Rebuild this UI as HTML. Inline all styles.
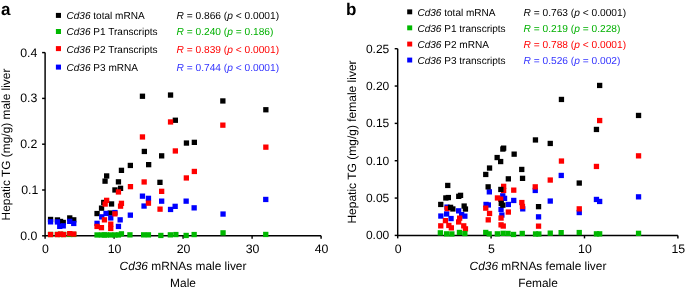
<!DOCTYPE html>
<html><head><meta charset="utf-8"><style>
html,body{margin:0;padding:0;background:#fff;width:685px;height:293px;overflow:hidden}
svg{display:block}
text{font-family:"Liberation Sans",sans-serif;fill:#000;text-rendering:geometricPrecision}
svg{transform:translateZ(0)}
.it{font-style:italic}
</style></head><body>
<svg width="685" height="293" viewBox="0 0 685 293">

<text x="1.1" y="14.5" font-size="17" font-weight="bold">a</text>
<text x="345.9" y="14.5" font-size="17" font-weight="bold">b</text>
<path d="M45.1 52.60000000000002 V235.8 H321.1" fill="none" stroke="#000" stroke-width="1.45"/><path d="M42.1 235.8 H45.1" stroke="#000" stroke-width="1.45"/><path d="M42.1 190.0 H45.1" stroke="#000" stroke-width="1.45"/><path d="M42.1 144.20000000000002 H45.1" stroke="#000" stroke-width="1.45"/><path d="M42.1 98.40000000000003 H45.1" stroke="#000" stroke-width="1.45"/><path d="M42.1 52.60000000000002 H45.1" stroke="#000" stroke-width="1.45"/><path d="M45.1 235.8 V238.8" stroke="#000" stroke-width="1.45"/><path d="M114.1 235.8 V238.8" stroke="#000" stroke-width="1.45"/><path d="M183.1 235.8 V238.8" stroke="#000" stroke-width="1.45"/><path d="M252.1 235.8 V238.8" stroke="#000" stroke-width="1.45"/><path d="M321.1 235.8 V238.8" stroke="#000" stroke-width="1.45"/>
<text x="37.300000000000004" y="239.8" font-size="12.3" text-anchor="end">0.0</text>
<text x="38.300000000000004" y="194.0" font-size="12.3" text-anchor="end">0.1</text>
<text x="37.300000000000004" y="148.20000000000002" font-size="12.3" text-anchor="end">0.2</text>
<text x="37.300000000000004" y="102.40000000000003" font-size="12.3" text-anchor="end">0.3</text>
<text x="37.300000000000004" y="56.60000000000002" font-size="12.3" text-anchor="end">0.4</text>
<text x="45.5" y="252.8" font-size="12.3" text-anchor="middle">0</text>
<text x="114.5" y="252.8" font-size="12.3" text-anchor="middle">10</text>
<text x="183.5" y="252.8" font-size="12.3" text-anchor="middle">20</text>
<text x="252.5" y="252.8" font-size="12.3" text-anchor="middle">30</text>
<text x="321.5" y="252.8" font-size="12.3" text-anchor="middle">40</text>
<text x="183" y="269.5" font-size="11.9" text-anchor="middle"><tspan class="it">Cd36</tspan> mRNAs male liver</text>
<text x="183" y="287" font-size="11.9" text-anchor="middle">Male</text>
<text transform="translate(10.3 144.5) rotate(-90)" font-size="11.9" text-anchor="middle">Hepatic TG (mg/g) male liver</text>
<path d="M397.7 48.69999999999999 V235.4 H677.9000000000001" fill="none" stroke="#000" stroke-width="1.45"/><path d="M394.7 235.4 H397.7" stroke="#000" stroke-width="1.45"/><path d="M394.7 198.06 H397.7" stroke="#000" stroke-width="1.45"/><path d="M394.7 160.72 H397.7" stroke="#000" stroke-width="1.45"/><path d="M394.7 123.38 H397.7" stroke="#000" stroke-width="1.45"/><path d="M394.7 86.03999999999999 H397.7" stroke="#000" stroke-width="1.45"/><path d="M394.7 48.69999999999999 H397.7" stroke="#000" stroke-width="1.45"/><path d="M397.7 235.4 V238.4" stroke="#000" stroke-width="1.45"/><path d="M491.1 235.4 V238.4" stroke="#000" stroke-width="1.45"/><path d="M584.5 235.4 V238.4" stroke="#000" stroke-width="1.45"/><path d="M677.9000000000001 235.4 V238.4" stroke="#000" stroke-width="1.45"/>
<text x="389.3" y="239.4" font-size="12" text-anchor="end">0.00</text>
<text x="389.3" y="202.06" font-size="12" text-anchor="end">0.05</text>
<text x="389.3" y="164.72" font-size="12" text-anchor="end">0.10</text>
<text x="389.3" y="127.38" font-size="12" text-anchor="end">0.15</text>
<text x="389.3" y="90.03999999999999" font-size="12" text-anchor="end">0.20</text>
<text x="389.3" y="52.69999999999999" font-size="12" text-anchor="end">0.25</text>
<text x="398.09999999999997" y="252.70000000000002" font-size="12.3" text-anchor="middle">0</text>
<text x="491.5" y="252.70000000000002" font-size="12.3" text-anchor="middle">5</text>
<text x="584.9" y="252.70000000000002" font-size="12.3" text-anchor="middle">10</text>
<text x="678.3000000000001" y="252.70000000000002" font-size="12.3" text-anchor="middle">15</text>
<text x="538" y="269.5" font-size="11.9" text-anchor="middle"><tspan class="it">Cd36</tspan> mRNAs female liver</text>
<text x="538" y="287" font-size="11.9" text-anchor="middle">Female</text>
<text transform="translate(355.8 142.0) rotate(-90)" font-size="12" text-anchor="middle">Hepatic TG (mg/g) female liver</text>
<rect x="55.9" y="12.9" width="5.1" height="5" fill="#000000"/>
<rect x="55.9" y="29.0" width="5.1" height="5" fill="#00b800"/>
<rect x="55.9" y="46.1" width="5.1" height="5" fill="#ff0000"/>
<rect x="55.9" y="64.6" width="5.1" height="5" fill="#0000ff"/>
<text x="66.5" y="19.0" font-size="10.05"><tspan class="it">Cd36</tspan> total mRNA</text>
<text x="66.5" y="35.2" font-size="10.05"><tspan class="it">Cd36</tspan> P1 Transcripts</text>
<text x="66.5" y="53.1" font-size="10.05"><tspan class="it">Cd36</tspan> P2 Transcripts</text>
<text x="66.5" y="71.0" font-size="10.05"><tspan class="it">Cd36</tspan> P3 mRNA</text>
<text x="176.5" y="19.0" font-size="10.2" style="fill:#000000"><tspan class="it">R</tspan> = 0.866 (<tspan class="it">p</tspan> &lt; 0.0001)</text>
<text x="176.5" y="35.2" font-size="10.2" style="fill:#00b000"><tspan class="it">R</tspan> = 0.240 (<tspan class="it">p</tspan> = 0.186)</text>
<text x="176.5" y="53.1" font-size="10.2" style="fill:#ff0000"><tspan class="it">R</tspan> = 0.839 (<tspan class="it">p</tspan> &lt; 0.0001)</text>
<text x="176.5" y="71.0" font-size="10.2" style="fill:#3333ff"><tspan class="it">R</tspan> = 0.744 (<tspan class="it">p</tspan> &lt; 0.0001)</text>
<rect x="407.2" y="9.4" width="5" height="4.9" fill="#000000"/>
<rect x="407.2" y="25.4" width="5" height="4.9" fill="#00b800"/>
<rect x="407.2" y="41.6" width="5" height="4.9" fill="#ff0000"/>
<rect x="407.2" y="57.599999999999994" width="5" height="4.9" fill="#0000ff"/>
<text x="417.4" y="15.9" font-size="10.05"><tspan class="it">Cd36</tspan> total mRNA</text>
<text x="417.4" y="31.9" font-size="10.05"><tspan class="it">Cd36</tspan> P1 transcripts</text>
<text x="417.4" y="48.1" font-size="10.05"><tspan class="it">Cd36</tspan> P2 mRNA</text>
<text x="417.4" y="64.1" font-size="10.05"><tspan class="it">Cd36</tspan> P3 transcripts</text>
<text x="523.5" y="15.9" font-size="10.2" style="fill:#000000"><tspan class="it">R</tspan> = 0.763 (<tspan class="it">p</tspan> &lt; 0.0001)</text>
<text x="523.5" y="31.9" font-size="10.2" style="fill:#00b000"><tspan class="it">R</tspan> = 0.219 (<tspan class="it">p</tspan> = 0.228)</text>
<text x="523.5" y="48.1" font-size="10.2" style="fill:#ff0000"><tspan class="it">R</tspan> = 0.788 (<tspan class="it">p</tspan> &lt; 0.0001)</text>
<text x="523.5" y="64.1" font-size="10.2" style="fill:#3333ff"><tspan class="it">R</tspan> = 0.526 (<tspan class="it">p</tspan> = 0.002)</text>
<rect x="139.8" y="93.6" width="5.3" height="5.3" fill="#000000"/><rect x="167.9" y="92.4" width="5.3" height="5.3" fill="#000000"/><rect x="172.7" y="117.6" width="5.3" height="5.3" fill="#000000"/><rect x="220.2" y="98.3" width="5.3" height="5.3" fill="#000000"/><rect x="263.2" y="107.1" width="5.3" height="5.3" fill="#000000"/><rect x="141.7" y="148.8" width="5.3" height="5.3" fill="#000000"/><rect x="159.0" y="153.2" width="5.3" height="5.3" fill="#000000"/><rect x="183.8" y="140.4" width="5.3" height="5.3" fill="#000000"/><rect x="191.7" y="139.7" width="5.3" height="5.3" fill="#000000"/><rect x="127.7" y="162.8" width="5.3" height="5.3" fill="#000000"/><rect x="146.0" y="162.0" width="5.3" height="5.3" fill="#000000"/><rect x="118.8" y="167.7" width="5.3" height="5.3" fill="#000000"/><rect x="104.0" y="173.3" width="5.3" height="5.3" fill="#000000"/><rect x="102.4" y="178.5" width="5.3" height="5.3" fill="#000000"/><rect x="115.8" y="179.2" width="5.3" height="5.3" fill="#000000"/><rect x="112.3" y="187.3" width="5.3" height="5.3" fill="#000000"/><rect x="117.9" y="185.7" width="5.3" height="5.3" fill="#000000"/><rect x="157.3" y="179.7" width="5.3" height="5.3" fill="#000000"/><rect x="108.9" y="201.3" width="5.3" height="5.3" fill="#000000"/><rect x="101.1" y="199.8" width="5.3" height="5.3" fill="#000000"/><rect x="98.9" y="205.5" width="5.3" height="5.3" fill="#000000"/><rect x="94.4" y="210.9" width="5.3" height="5.3" fill="#000000"/><rect x="107.6" y="210.4" width="5.3" height="5.3" fill="#000000"/><rect x="47.9" y="216.8" width="5.3" height="5.3" fill="#000000"/><rect x="54.8" y="217.3" width="5.3" height="5.3" fill="#000000"/><rect x="57.9" y="218.8" width="5.3" height="5.3" fill="#000000"/><rect x="60.6" y="219.8" width="5.3" height="5.3" fill="#000000"/><rect x="67.1" y="215.3" width="5.3" height="5.3" fill="#000000"/><rect x="71.1" y="217.2" width="5.3" height="5.3" fill="#000000"/><rect x="47.9" y="231.8" width="5.3" height="5.3" fill="#00b800"/><rect x="54.8" y="231.8" width="5.3" height="5.3" fill="#00b800"/><rect x="57.9" y="231.8" width="5.3" height="5.3" fill="#00b800"/><rect x="61.0" y="231.8" width="5.3" height="5.3" fill="#00b800"/><rect x="67.1" y="231.8" width="5.3" height="5.3" fill="#00b800"/><rect x="71.1" y="231.8" width="5.3" height="5.3" fill="#00b800"/><rect x="94.4" y="232.3" width="5.3" height="5.3" fill="#00b800"/><rect x="98.8" y="232.3" width="5.3" height="5.3" fill="#00b800"/><rect x="101.8" y="232.3" width="5.3" height="5.3" fill="#00b800"/><rect x="103.8" y="232.3" width="5.3" height="5.3" fill="#00b800"/><rect x="108.1" y="232.3" width="5.3" height="5.3" fill="#00b800"/><rect x="112.3" y="232.3" width="5.3" height="5.3" fill="#00b800"/><rect x="115.8" y="232.3" width="5.3" height="5.3" fill="#00b800"/><rect x="118.8" y="231.2" width="5.3" height="5.3" fill="#00b800"/><rect x="127.3" y="232.2" width="5.3" height="5.3" fill="#00b800"/><rect x="141.0" y="232.2" width="5.3" height="5.3" fill="#00b800"/><rect x="145.8" y="232.2" width="5.3" height="5.3" fill="#00b800"/><rect x="158.2" y="232.8" width="5.3" height="5.3" fill="#00b800"/><rect x="167.7" y="232.2" width="5.3" height="5.3" fill="#00b800"/><rect x="173.2" y="231.9" width="5.3" height="5.3" fill="#00b800"/><rect x="183.5" y="232.8" width="5.3" height="5.3" fill="#00b800"/><rect x="191.5" y="231.9" width="5.3" height="5.3" fill="#00b800"/><rect x="220.4" y="230.2" width="5.3" height="5.3" fill="#00b800"/><rect x="263.1" y="231.8" width="5.3" height="5.3" fill="#00b800"/><rect x="139.8" y="193.5" width="5.3" height="5.3" fill="#0000ff"/><rect x="145.8" y="195.7" width="5.3" height="5.3" fill="#0000ff"/><rect x="159.0" y="198.5" width="5.3" height="5.3" fill="#0000ff"/><rect x="141.4" y="203.4" width="5.3" height="5.3" fill="#0000ff"/><rect x="127.7" y="212.5" width="5.3" height="5.3" fill="#0000ff"/><rect x="167.9" y="206.8" width="5.3" height="5.3" fill="#0000ff"/><rect x="172.5" y="203.7" width="5.3" height="5.3" fill="#0000ff"/><rect x="183.5" y="198.5" width="5.3" height="5.3" fill="#0000ff"/><rect x="191.5" y="205.2" width="5.3" height="5.3" fill="#0000ff"/><rect x="220.4" y="211.4" width="5.3" height="5.3" fill="#0000ff"/><rect x="263.1" y="196.8" width="5.3" height="5.3" fill="#0000ff"/><rect x="103.4" y="210.8" width="5.3" height="5.3" fill="#0000ff"/><rect x="99.1" y="214.2" width="5.3" height="5.3" fill="#0000ff"/><rect x="112.3" y="209.9" width="5.3" height="5.3" fill="#0000ff"/><rect x="108.1" y="215.3" width="5.3" height="5.3" fill="#0000ff"/><rect x="117.5" y="217.2" width="5.3" height="5.3" fill="#0000ff"/><rect x="94.4" y="220.7" width="5.3" height="5.3" fill="#0000ff"/><rect x="115.8" y="223.8" width="5.3" height="5.3" fill="#0000ff"/><rect x="47.9" y="219.2" width="5.3" height="5.3" fill="#0000ff"/><rect x="54.8" y="219.3" width="5.3" height="5.3" fill="#0000ff"/><rect x="57.1" y="223.7" width="5.3" height="5.3" fill="#0000ff"/><rect x="60.6" y="223.2" width="5.3" height="5.3" fill="#0000ff"/><rect x="67.1" y="218.7" width="5.3" height="5.3" fill="#0000ff"/><rect x="71.1" y="220.8" width="5.3" height="5.3" fill="#0000ff"/><rect x="167.9" y="119.3" width="5.3" height="5.3" fill="#ff0000"/><rect x="220.2" y="122.5" width="5.3" height="5.3" fill="#ff0000"/><rect x="139.8" y="134.3" width="5.3" height="5.3" fill="#ff0000"/><rect x="172.7" y="148.3" width="5.3" height="5.3" fill="#ff0000"/><rect x="191.7" y="168.8" width="5.3" height="5.3" fill="#ff0000"/><rect x="183.7" y="175.3" width="5.3" height="5.3" fill="#ff0000"/><rect x="263.2" y="144.5" width="5.3" height="5.3" fill="#ff0000"/><rect x="127.8" y="184.0" width="5.3" height="5.3" fill="#ff0000"/><rect x="141.5" y="179.3" width="5.3" height="5.3" fill="#ff0000"/><rect x="115.8" y="189.3" width="5.3" height="5.3" fill="#ff0000"/><rect x="159.0" y="188.7" width="5.3" height="5.3" fill="#ff0000"/><rect x="104.0" y="197.7" width="5.3" height="5.3" fill="#ff0000"/><rect x="102.5" y="201.4" width="5.3" height="5.3" fill="#ff0000"/><rect x="118.8" y="200.7" width="5.3" height="5.3" fill="#ff0000"/><rect x="117.9" y="203.5" width="5.3" height="5.3" fill="#ff0000"/><rect x="112.3" y="211.2" width="5.3" height="5.3" fill="#ff0000"/><rect x="101.8" y="217.2" width="5.3" height="5.3" fill="#ff0000"/><rect x="108.1" y="221.5" width="5.3" height="5.3" fill="#ff0000"/><rect x="108.1" y="225.8" width="5.3" height="5.3" fill="#ff0000"/><rect x="94.4" y="223.8" width="5.3" height="5.3" fill="#ff0000"/><rect x="98.8" y="225.0" width="5.3" height="5.3" fill="#ff0000"/><rect x="145.8" y="200.5" width="5.3" height="5.3" fill="#ff0000"/><rect x="157.4" y="206.5" width="5.3" height="5.3" fill="#ff0000"/><rect x="47.9" y="231.9" width="5.3" height="5.3" fill="#ff0000"/><rect x="54.8" y="231.9" width="5.3" height="5.3" fill="#ff0000"/><rect x="57.9" y="231.4" width="5.3" height="5.3" fill="#ff0000"/><rect x="61.0" y="231.9" width="5.3" height="5.3" fill="#ff0000"/><rect x="67.1" y="231.0" width="5.3" height="5.3" fill="#ff0000"/><rect x="71.1" y="231.4" width="5.3" height="5.3" fill="#ff0000"/>
<rect x="558.6" y="172.8" width="5.3" height="5.3" fill="#0000ff"/><rect x="593.8" y="196.8" width="5.3" height="5.3" fill="#0000ff"/><rect x="597.0" y="198.8" width="5.3" height="5.3" fill="#0000ff"/><rect x="635.9" y="194.2" width="5.3" height="5.3" fill="#0000ff"/><rect x="576.6" y="209.9" width="5.3" height="5.3" fill="#0000ff"/><rect x="547.6" y="198.4" width="5.3" height="5.3" fill="#0000ff"/><rect x="532.6" y="187.8" width="5.3" height="5.3" fill="#0000ff"/><rect x="535.9" y="214.2" width="5.3" height="5.3" fill="#0000ff"/><rect x="520.1" y="206.2" width="5.3" height="5.3" fill="#0000ff"/><rect x="486.7" y="189.2" width="5.3" height="5.3" fill="#0000ff"/><rect x="483.4" y="201.8" width="5.3" height="5.3" fill="#0000ff"/><rect x="485.7" y="202.3" width="5.3" height="5.3" fill="#0000ff"/><rect x="500.1" y="193.2" width="5.3" height="5.3" fill="#0000ff"/><rect x="501.9" y="195.7" width="5.3" height="5.3" fill="#0000ff"/><rect x="511.1" y="197.8" width="5.3" height="5.3" fill="#0000ff"/><rect x="505.7" y="201.8" width="5.3" height="5.3" fill="#0000ff"/><rect x="498.4" y="206.8" width="5.3" height="5.3" fill="#0000ff"/><rect x="499.2" y="212.4" width="5.3" height="5.3" fill="#0000ff"/><rect x="444.4" y="204.5" width="5.3" height="5.3" fill="#0000ff"/><rect x="456.0" y="208.2" width="5.3" height="5.3" fill="#0000ff"/><rect x="438.2" y="213.4" width="5.3" height="5.3" fill="#0000ff"/><rect x="444.0" y="211.3" width="5.3" height="5.3" fill="#0000ff"/><rect x="448.4" y="215.9" width="5.3" height="5.3" fill="#0000ff"/><rect x="462.2" y="213.5" width="5.3" height="5.3" fill="#0000ff"/><rect x="459.0" y="212.0" width="5.3" height="5.3" fill="#0000ff"/><rect x="597.0" y="117.9" width="5.3" height="5.3" fill="#ff0000"/><rect x="635.9" y="153.2" width="5.3" height="5.3" fill="#ff0000"/><rect x="558.8" y="158.4" width="5.3" height="5.3" fill="#ff0000"/><rect x="593.8" y="163.8" width="5.3" height="5.3" fill="#ff0000"/><rect x="547.6" y="177.4" width="5.3" height="5.3" fill="#ff0000"/><rect x="532.6" y="184.2" width="5.3" height="5.3" fill="#ff0000"/><rect x="535.9" y="223.5" width="5.3" height="5.3" fill="#ff0000"/><rect x="576.6" y="206.2" width="5.3" height="5.3" fill="#ff0000"/><rect x="501.0" y="183.7" width="5.3" height="5.3" fill="#ff0000"/><rect x="501.0" y="187.8" width="5.3" height="5.3" fill="#ff0000"/><rect x="511.1" y="187.5" width="5.3" height="5.3" fill="#ff0000"/><rect x="494.8" y="195.3" width="5.3" height="5.3" fill="#ff0000"/><rect x="498.0" y="196.5" width="5.3" height="5.3" fill="#ff0000"/><rect x="519.2" y="199.9" width="5.3" height="5.3" fill="#ff0000"/><rect x="519.8" y="203.8" width="5.3" height="5.3" fill="#ff0000"/><rect x="483.1" y="205.5" width="5.3" height="5.3" fill="#ff0000"/><rect x="486.9" y="210.8" width="5.3" height="5.3" fill="#ff0000"/><rect x="485.6" y="217.2" width="5.3" height="5.3" fill="#ff0000"/><rect x="505.7" y="209.4" width="5.3" height="5.3" fill="#ff0000"/><rect x="498.4" y="215.4" width="5.3" height="5.3" fill="#ff0000"/><rect x="498.4" y="222.2" width="5.3" height="5.3" fill="#ff0000"/><rect x="500.6" y="223.4" width="5.3" height="5.3" fill="#ff0000"/><rect x="444.5" y="205.9" width="5.3" height="5.3" fill="#ff0000"/><rect x="442.8" y="218.0" width="5.3" height="5.3" fill="#ff0000"/><rect x="438.1" y="223.2" width="5.3" height="5.3" fill="#ff0000"/><rect x="446.2" y="222.8" width="5.3" height="5.3" fill="#ff0000"/><rect x="448.7" y="225.2" width="5.3" height="5.3" fill="#ff0000"/><rect x="457.0" y="215.5" width="5.3" height="5.3" fill="#ff0000"/><rect x="456.0" y="219.3" width="5.3" height="5.3" fill="#ff0000"/><rect x="461.1" y="223.2" width="5.3" height="5.3" fill="#ff0000"/><rect x="462.8" y="226.2" width="5.3" height="5.3" fill="#ff0000"/><rect x="597.0" y="82.8" width="5.3" height="5.3" fill="#000000"/><rect x="558.8" y="96.8" width="5.3" height="5.3" fill="#000000"/><rect x="635.9" y="112.8" width="5.3" height="5.3" fill="#000000"/><rect x="593.8" y="126.8" width="5.3" height="5.3" fill="#000000"/><rect x="532.8" y="137.3" width="5.3" height="5.3" fill="#000000"/><rect x="547.6" y="140.8" width="5.3" height="5.3" fill="#000000"/><rect x="500.2" y="146.4" width="5.3" height="5.3" fill="#000000"/><rect x="501.0" y="145.5" width="5.3" height="5.3" fill="#000000"/><rect x="511.5" y="151.5" width="5.3" height="5.3" fill="#000000"/><rect x="494.5" y="154.9" width="5.3" height="5.3" fill="#000000"/><rect x="498.0" y="158.9" width="5.3" height="5.3" fill="#000000"/><rect x="486.9" y="165.4" width="5.3" height="5.3" fill="#000000"/><rect x="483.1" y="171.8" width="5.3" height="5.3" fill="#000000"/><rect x="519.1" y="166.8" width="5.3" height="5.3" fill="#000000"/><rect x="505.7" y="176.2" width="5.3" height="5.3" fill="#000000"/><rect x="519.9" y="175.7" width="5.3" height="5.3" fill="#000000"/><rect x="576.6" y="180.4" width="5.3" height="5.3" fill="#000000"/><rect x="485.5" y="184.2" width="5.3" height="5.3" fill="#000000"/><rect x="498.2" y="186.8" width="5.3" height="5.3" fill="#000000"/><rect x="498.6" y="200.7" width="5.3" height="5.3" fill="#000000"/><rect x="500.2" y="202.5" width="5.3" height="5.3" fill="#000000"/><rect x="535.9" y="204.0" width="5.3" height="5.3" fill="#000000"/><rect x="445.1" y="182.8" width="5.3" height="5.3" fill="#000000"/><rect x="443.2" y="195.3" width="5.3" height="5.3" fill="#000000"/><rect x="445.7" y="194.9" width="5.3" height="5.3" fill="#000000"/><rect x="456.1" y="193.7" width="5.3" height="5.3" fill="#000000"/><rect x="457.9" y="192.7" width="5.3" height="5.3" fill="#000000"/><rect x="438.1" y="201.8" width="5.3" height="5.3" fill="#000000"/><rect x="447.9" y="204.7" width="5.3" height="5.3" fill="#000000"/><rect x="450.2" y="206.3" width="5.3" height="5.3" fill="#000000"/><rect x="461.5" y="203.4" width="5.3" height="5.3" fill="#000000"/><rect x="462.8" y="206.4" width="5.3" height="5.3" fill="#000000"/><rect x="437.7" y="230.2" width="5.3" height="5.3" fill="#00b800"/><rect x="443.9" y="231.2" width="5.3" height="5.3" fill="#00b800"/><rect x="449.2" y="231.3" width="5.3" height="5.3" fill="#00b800"/><rect x="456.8" y="229.8" width="5.3" height="5.3" fill="#00b800"/><rect x="462.2" y="230.9" width="5.3" height="5.3" fill="#00b800"/><rect x="483.1" y="229.8" width="5.3" height="5.3" fill="#00b800"/><rect x="486.5" y="231.2" width="5.3" height="5.3" fill="#00b800"/><rect x="494.7" y="231.2" width="5.3" height="5.3" fill="#00b800"/><rect x="500.4" y="230.7" width="5.3" height="5.3" fill="#00b800"/><rect x="505.4" y="230.8" width="5.3" height="5.3" fill="#00b800"/><rect x="510.9" y="231.8" width="5.3" height="5.3" fill="#00b800"/><rect x="519.6" y="230.8" width="5.3" height="5.3" fill="#00b800"/><rect x="532.9" y="231.3" width="5.3" height="5.3" fill="#00b800"/><rect x="536.2" y="231.3" width="5.3" height="5.3" fill="#00b800"/><rect x="547.6" y="230.5" width="5.3" height="5.3" fill="#00b800"/><rect x="558.5" y="230.0" width="5.3" height="5.3" fill="#00b800"/><rect x="576.6" y="229.9" width="5.3" height="5.3" fill="#00b800"/><rect x="593.8" y="231.2" width="5.3" height="5.3" fill="#00b800"/><rect x="597.0" y="231.2" width="5.3" height="5.3" fill="#00b800"/><rect x="635.9" y="230.7" width="5.3" height="5.3" fill="#00b800"/>
</svg></body></html>
